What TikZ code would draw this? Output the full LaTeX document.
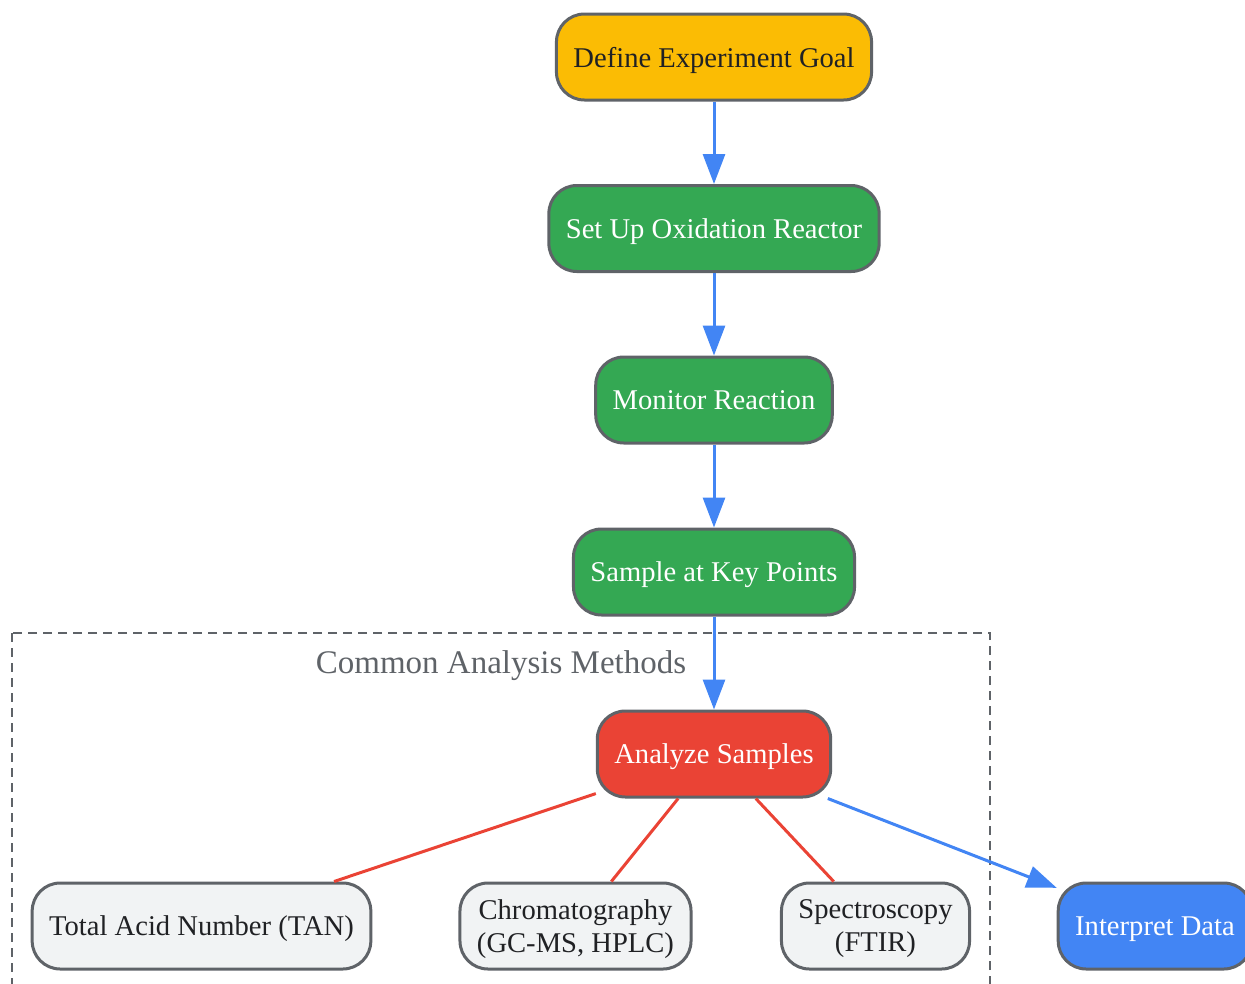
\documentclass[tikz,border=0pt]{standalone}
\usepackage{fontspec}
\setmainfont{Liberation Serif}
\usetikzlibrary{arrows.meta}
\definecolor{goalyellow}{HTML}{FBBC04}
\definecolor{stepgreen}{HTML}{34A853}
\definecolor{analyzered}{HTML}{EA4335}
\definecolor{flowblue}{HTML}{4285F4}
\definecolor{methodgray}{HTML}{F1F3F4}
\definecolor{bordergray}{HTML}{5F6368}
\definecolor{textdark}{HTML}{202124}

\begin{document}
\begin{tikzpicture}[x=1pt, y=-1pt, every node/.style={font=\fontsize{28.6}{33}\selectfont},
		box/.style={draw=bordergray, line width=3pt, rounded corners=28pt, minimum height=86pt, inner xsep=17pt, text depth=0pt, align=center},
		flow/.style={flowblue, line width=3pt, -{Triangle[length=30pt, width=22pt]}},
		link/.style={analyzered, line width=3pt}]
		\useasboundingbox (0,0) rectangle (1245,983);

		% Cluster
		\draw[bordergray, line width=2pt, dash pattern=on 9pt off 6pt] (12,633) rectangle (990,1010);
		\node[text=bordergray, font=\fontsize{33}{38}\selectfont] (clusterlabel) at (501,666) {Common Analysis Methods};

		% Main steps
		\node[box, fill=goalyellow, text=textdark] (goal) at (714,57) {Define Experiment Goal};
		\node[box, fill=stepgreen, text=white] (setup) at (714,228.5) {Set Up Oxidation Reactor};
		\node[box, fill=stepgreen, text=white] (monitor) at (714,400) {Monitor Reaction};
		\node[box, fill=stepgreen, text=white] (sample) at (714,572) {Sample at Key Points};
		\node[box, fill=analyzered, text=white] (analyze) at (714,754) {Analyze Samples};
		\node[box, fill=flowblue, text=white] (interpret) at (1155,926) {Interpret Data};

		% Methods
		\node[box, fill=methodgray, text=textdark] (tan) at (201.5,926) {Total Acid Number (TAN)};
		\node[box, fill=methodgray, text=textdark] (chrom) at (575.5,926) {Chromatography\\(GC-MS, HPLC)};
		\node[box, fill=methodgray, text=textdark] (spectro) at (875.5,926) {Spectroscopy\\(FTIR)};

		% Flow arrows
		\draw[flow] (goal) -- (setup);
		\draw[flow] (setup) -- (monitor);
		\draw[flow] (monitor) -- (sample);
		\draw[flow] (sample) -- (analyze);
		\draw[flow] (analyze) -- (interpret);

		% Method links
		\draw[link] (analyze) -- (tan);
		\draw[link] (analyze) -- (chrom);
		\draw[link] (analyze) -- (spectro);
	\end{tikzpicture}
\end{document}
